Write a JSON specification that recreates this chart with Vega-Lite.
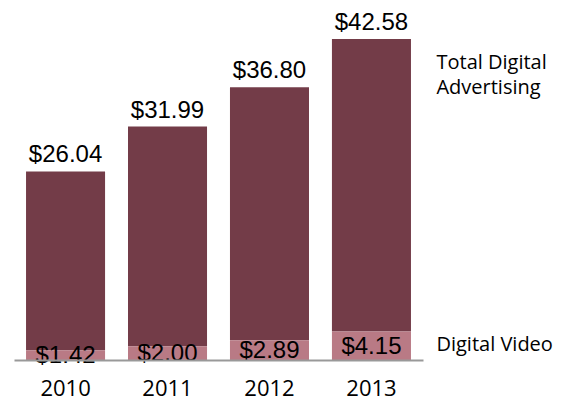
{
  "$schema": "https://vega.github.io/schema/vega-lite/v6.json",
  "width": 409,
  "height": 360,
  "autosize": {"type": "none"},
  "padding": {"left": 14, "top": 0, "right": 140, "bottom": 40},
  "config": {"view": {"stroke": null}},
  "data": {
    "values": [
      {"year": "2010", "key": "total", "value": 26.04},
      {"year": "2010", "key": "video", "value": 1.42},
      {"year": "2011", "key": "total", "value": 31.99},
      {"year": "2011", "key": "video", "value": 2.00},
      {"year": "2012", "key": "total", "value": 36.80},
      {"year": "2012", "key": "video", "value": 2.89},
      {"year": "2013", "key": "total", "value": 42.58},
      {"year": "2013", "key": "video", "value": 4.15}
    ]
  },
  "transform": [
    {"stack": "value", "groupby": ["year"], "sort": [{"field": "key", "order": "descending"}], "as": ["v0", "v1"]}
  ],
  "encoding": {
    "x": {
      "field": "year", "type": "nominal",
      "scale": {"paddingInner": 0.225, "paddingOuter": 0.118},
      "axis": {"title": null, "labelAngle": 0, "ticks": false, "labelFont": "Open Sans", "labelFontSize": 22, "labelColor": "#000000", "labelPadding": 18, "domainColor": "#999999", "domainWidth": 2, "zindex": 1}
    }
  },
  "layer": [
    {
      "mark": {"type": "bar"},
      "encoding": {
        "y": {"field": "v0", "type": "quantitative", "scale": {"domain": [0, 52.41], "nice": false}, "axis": null},
        "y2": {"field": "v1"},
        "color": {"field": "key", "type": "nominal", "scale": {"domain": ["total", "video"], "range": ["#733c48", "#b97a85"]}, "legend": null}
      }
    },
    {
      "transform": [{"filter": "datum.key == 'total'"}],
      "mark": {"type": "text", "font": "Liberation Sans", "fontSize": 24, "baseline": "alphabetic", "dy": -9, "color": "#000000"},
      "encoding": {
        "y": {"field": "v1", "type": "quantitative"},
        "text": {"field": "value", "type": "quantitative", "format": "$.2f"}
      }
    },
    {
      "transform": [
        {"filter": "datum.key == 'video'"},
        {"fold": ["v0", "v1"], "as": ["edge", "pos"]}
      ],
      "mark": {"type": "text", "font": "Liberation Sans", "fontSize": 24, "baseline": "middle", "dy": 1, "color": "#000000"},
      "encoding": {
        "y": {"field": "pos", "aggregate": "mean", "type": "quantitative"},
        "text": {"field": "value", "aggregate": "max", "type": "quantitative", "format": "$.2f"}
      }
    },
    {
      "transform": [{"filter": "datum.key == 'total' && datum.year == '2013'"}],
      "mark": {"type": "text", "font": "Open Sans", "fontSize": 20, "align": "left", "baseline": "alphabetic", "dx": 65, "dy": 30, "lineHeight": 25, "color": "#000000", "text": ["Total Digital", "Advertising"]},
      "encoding": {
        "y": {"field": "v1", "type": "quantitative"}
      }
    },
    {
      "transform": [
        {"filter": "datum.key == 'video' && datum.year == '2013'"},
        {"fold": ["v0", "v1"], "as": ["edge", "pos"]}
      ],
      "mark": {"type": "text", "font": "Open Sans", "fontSize": 20, "align": "left", "baseline": "middle", "dx": 65, "dy": -1, "color": "#000000", "text": "Digital Video"},
      "encoding": {
        "y": {"field": "pos", "aggregate": "mean", "type": "quantitative"}
      }
    }
  ]
}
